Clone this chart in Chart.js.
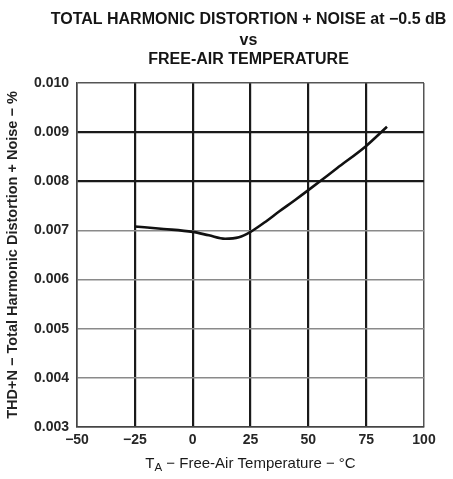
<!DOCTYPE html>
<html>
<head>
<meta charset="utf-8">
<script src="https://cdn.jsdelivr.net/npm/chart.js@4"></script>
<style>
  html, body { margin: 0; padding: 0; background: #fff; }
  #wrap { width: 453px; height: 479px; }
</style>
</head>
<body>
<div id="wrap"><canvas id="c" width="453" height="479"></canvas></div>
<script>
const titleLines = ['TOTAL HARMONIC DISTORTION + NOISE at \u22120.5 dB', 'vs', 'FREE-AIR TEMPERATURE'];
const yTitle = 'THD+N \u2212 Total Harmonic Distortion + Noise \u2212 %';
const xTitleMain = 'T';
const xTitleSub = 'A';
const xTitleRest = ' \u2212 Free-Air Temperature \u2212 \u00B0C';

const temps = [-25, -12.5, 0, 7, 14, 20, 25, 31, 37.5, 44, 50, 62.5, 75, 84];
const thdn = [0.00708, 0.00703, 0.00697, 0.00690, 0.00683, 0.00686, 0.00697, 0.00716, 0.00739, 0.00761, 0.00782, 0.00827, 0.00872, 0.00911];

const xMin = -50, xMax = 100, xStep = 25;
const yMin = 0.003, yMax = 0.010, yStep = 0.001;
const darkYTicks = [0.008, 0.009];

const FONT = '"Liberation Sans", Arial, sans-serif';

const titlePlugin = {
  id: 'customTitles',
  afterDraw(chart) {
    const ctx = chart.ctx;
    const ca = chart.chartArea;
    const cx = (ca.left + ca.right) / 2 - 2;
    ctx.save();
    ctx.fillStyle = '#151515';
    ctx.textAlign = 'center';
    ctx.textBaseline = 'alphabetic';
    ctx.font = 'bold 16px ' + FONT;
    const ys = [24, 44.5, 64];
    titleLines.forEach((t, i) => ctx.fillText(t, cx, ys[i]));

    // x-axis title with subscript
    const mainFont = '15px ' + FONT;
    const subFont = '11.5px ' + FONT;
    ctx.font = mainFont;
    const wT = ctx.measureText(xTitleMain).width;
    const wR = ctx.measureText(xTitleRest).width;
    ctx.font = subFont;
    const wS = ctx.measureText(xTitleSub).width;
    const total = wT + wS + wR;
    let x = (ca.left + ca.right) / 2 - total / 2;
    const y = 468;
    ctx.textAlign = 'left';
    ctx.fillStyle = '#1a1a1a';
    ctx.font = mainFont;
    ctx.fillText(xTitleMain, x, y);
    x += wT;
    ctx.font = subFont;
    ctx.fillText(xTitleSub, x, y + 3);
    x += wS;
    ctx.font = mainFont;
    ctx.fillText(xTitleRest, x, y);
    ctx.restore();
  }
};

const near = (a, b) => Math.abs(a - b) < 1e-9;

new Chart(document.getElementById('c'), {
  type: 'line',
  data: {
    datasets: [{
      data: temps.map((t, i) => ({ x: t, y: thdn[i] })),
      borderColor: '#111',
      borderWidth: 2.6,
      pointRadius: 0,
      fill: false,
      cubicInterpolationMode: 'monotone'
    }]
  },
  options: {
    responsive: false,
    animation: false,
    devicePixelRatio: 1,
    layout: { padding: { top: 83, right: 29, left: 0, bottom: 0 } },
    plugins: { legend: { display: false }, tooltip: { enabled: false }, title: { display: false } },
    scales: {
      x: {
        type: 'linear',
        min: xMin, max: xMax,
        afterFit: s => { s.height = 52; },
        border: { display: true, color: '#444', width: 1.5 },
        grid: {
          drawTicks: false,
          color: c => (c.tick && (c.tick.value === xMin || c.tick.value === xMax)) ? '#555' : '#1a1a1a',
          lineWidth: c => (c.tick && (c.tick.value === xMin || c.tick.value === xMax)) ? 1.5 : 2.2
        },
        ticks: {
          stepSize: xStep,
          padding: 5,
          color: '#262626',
          font: { family: FONT, size: 14, weight: 'bold' },
          maxRotation: 0,
          callback: v => (v < 0 ? '\u2212' + Math.abs(v) : String(v))
        }
      },
      y: {
        type: 'linear',
        min: yMin, max: yMax,
        afterFit: s => { s.width = 77; },
        border: { display: true, color: '#444', width: 1.5 },
        grid: {
          drawTicks: false,
          color: c => {
            if (!c.tick) return '#888';
            const v = c.tick.value;
            if (near(v, yMin) || near(v, yMax)) return '#555';
            return darkYTicks.some(d => near(d, v)) ? '#1a1a1a' : '#8a8a8a';
          },
          lineWidth: c => {
            if (!c.tick) return 1.5;
            const v = c.tick.value;
            return darkYTicks.some(d => near(d, v)) ? 2.2 : 1.5;
          }
        },
        ticks: {
          stepSize: yStep,
          padding: 8,
          color: '#262626',
          font: { family: FONT, size: 14, weight: 'bold' },
          callback: v => v.toFixed(3)
        },
        title: {
          display: true,
          text: yTitle,
          color: '#222',
          padding: { top: 4, bottom: 0 },
          font: { family: FONT, size: 14.5, weight: 'bold' }
        }
      }
    }
  },
  plugins: [titlePlugin]
});
</script>
</body>
</html>
